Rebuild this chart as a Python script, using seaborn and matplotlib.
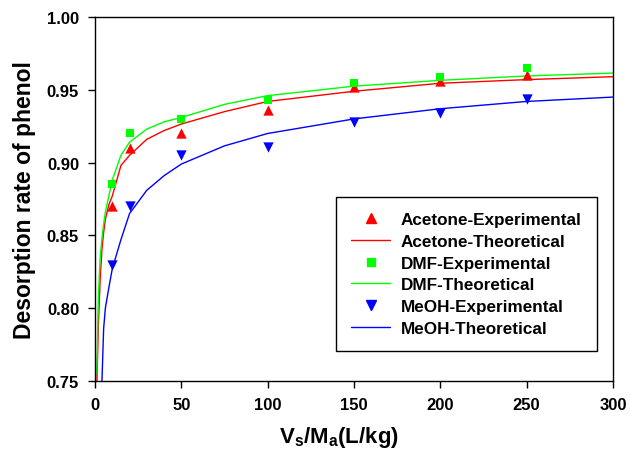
import matplotlib
matplotlib.use("Agg")
import matplotlib.pyplot as plt
import seaborn as sns
from matplotlib.lines import Line2D

# Experimental data
x_exp = [10, 20, 50, 100, 150, 200, 250]
acetone_exp = [0.870, 0.910, 0.920, 0.936, 0.952, 0.956, 0.960]
dmf_exp = [0.885, 0.920, 0.930, 0.943, 0.955, 0.959, 0.965]
meoh_exp = [0.830, 0.870, 0.905, 0.911, 0.928, 0.934, 0.944]

# Theoretical curves
x_theo = [1, 2, 3, 4, 5, 6, 8, 10, 15, 20, 30, 40, 50, 75, 100, 150, 200, 250, 300]
acetone_theo = [0.745, 0.790, 0.820, 0.840, 0.852, 0.861, 0.871, 0.877, 0.898, 0.905, 0.916,
                0.922, 0.9265, 0.935, 0.942, 0.949, 0.9545, 0.957, 0.959]
dmf_theo = [0.755, 0.810, 0.835, 0.848, 0.858, 0.866, 0.877, 0.888, 0.905, 0.914, 0.923,
            0.928, 0.931, 0.940, 0.946, 0.9525, 0.9565, 0.9595, 0.9615]
x_theo_meoh = [4, 5, 6, 8, 10, 15, 20, 30, 40, 50, 75, 100, 150, 200, 250, 300]
meoh_theo = [0.749, 0.786, 0.800, 0.814, 0.827, 0.847, 0.865, 0.881, 0.891, 0.899, 0.9115,
             0.920, 0.930, 0.937, 0.942, 0.945]

x_ticks = [0, 50, 100, 150, 200, 250, 300]
y_ticks = [0.75, 0.80, 0.85, 0.90, 0.95, 1.00]
y_tick_labels = ['0.75', '0.80', '0.85', '0.90', '0.95', '1.00']
labels = ['Acetone-Experimental', 'Acetone-Theoretical', 'DMF-Experimental',
          'DMF-Theoretical', 'MeOH-Experimental', 'MeOH-Theoretical']

sns.set_style("white")
plt.rcParams['font.family'] = ['Liberation Sans', 'DejaVu Sans']
plt.rcParams['font.weight'] = 'bold'
plt.rcParams['text.color'] = 'black'
plt.rcParams['axes.labelcolor'] = 'black'
plt.rcParams['xtick.color'] = 'black'
plt.rcParams['ytick.color'] = 'black'
plt.rcParams['mathtext.fontset'] = 'custom'
plt.rcParams['mathtext.rm'] = 'Liberation Sans:bold'
plt.rcParams['mathtext.bf'] = 'Liberation Sans:bold'
plt.rcParams['mathtext.it'] = 'Liberation Sans:bold'
plt.rcParams['mathtext.default'] = 'bf'

fig = plt.figure(figsize=(6.3, 4.56), dpi=100)
ax = fig.add_axes([95/630, 1-382/456, (613-95)/630, (382-18)/456])

RED, GREEN, BLUE = '#ff0000', '#00ff00', '#0000ff'
lw = 1.0

sns.lineplot(x=x_theo, y=acetone_theo, ax=ax, color=RED, linewidth=lw, sort=False)
sns.lineplot(x=x_theo, y=dmf_theo, ax=ax, color=GREEN, linewidth=lw, sort=False)
sns.lineplot(x=x_theo_meoh, y=meoh_theo, ax=ax, color=BLUE, linewidth=lw, sort=False)

sns.scatterplot(x=x_exp, y=acetone_exp, ax=ax, color=RED, marker='^', s=55, linewidth=0, zorder=4)
sns.scatterplot(x=x_exp, y=dmf_exp, ax=ax, color=GREEN, marker='s', s=40, linewidth=0, zorder=4)
sns.scatterplot(x=x_exp, y=meoh_exp, ax=ax, color=BLUE, marker='v', s=55, linewidth=0, zorder=4)

ax.set_xlim(0, 300)
ax.set_ylim(0.75, 1.00)
ax.set_xticks(x_ticks)
ax.set_yticks(y_ticks)
ax.set_yticklabels(y_tick_labels)

for s in ax.spines.values():
    s.set_visible(True)
    s.set_color('black')
    s.set_linewidth(1.0)

ax.tick_params(axis='both', which='major', direction='out', length=5, width=1,
               labelsize=12, pad=6.5, bottom=True, left=True, top=False, right=False,
               colors='black')
for lab in ax.get_xticklabels() + ax.get_yticklabels():
    lab.set_fontweight('bold')

ax.set_xlabel('V$_s$/M$_a$(L/kg)', fontsize=16, fontweight='bold', labelpad=9, color='black')
ax.xaxis.label.set_x(0.47)
ax.set_ylabel('Desorption rate of phenol', fontsize=16.5, fontweight='bold', labelpad=7.5,
              color='black')

handles = [
    Line2D([], [], color=RED, marker='^', linestyle='None', markersize=7),
    Line2D([], [], color=RED, linewidth=lw),
    Line2D([], [], color=GREEN, marker='s', linestyle='None', markersize=6),
    Line2D([], [], color=GREEN, linewidth=lw),
    Line2D([], [], color=BLUE, marker='v', linestyle='None', markersize=7),
    Line2D([], [], color=BLUE, linewidth=lw),
]
leg = ax.legend(handles, labels, loc='lower right', bbox_to_anchor=(0.969, 0.082),
                prop={'weight': 'bold', 'size': 12.3}, frameon=True, fancybox=False,
                edgecolor='black', framealpha=1, handlelength=2.3, labelspacing=0.39,
                borderpad=0.9, handletextpad=0.6, borderaxespad=0, labelcolor='black')
leg.get_frame().set_linewidth(1.0)

fig.savefig('out.png', dpi=100)
